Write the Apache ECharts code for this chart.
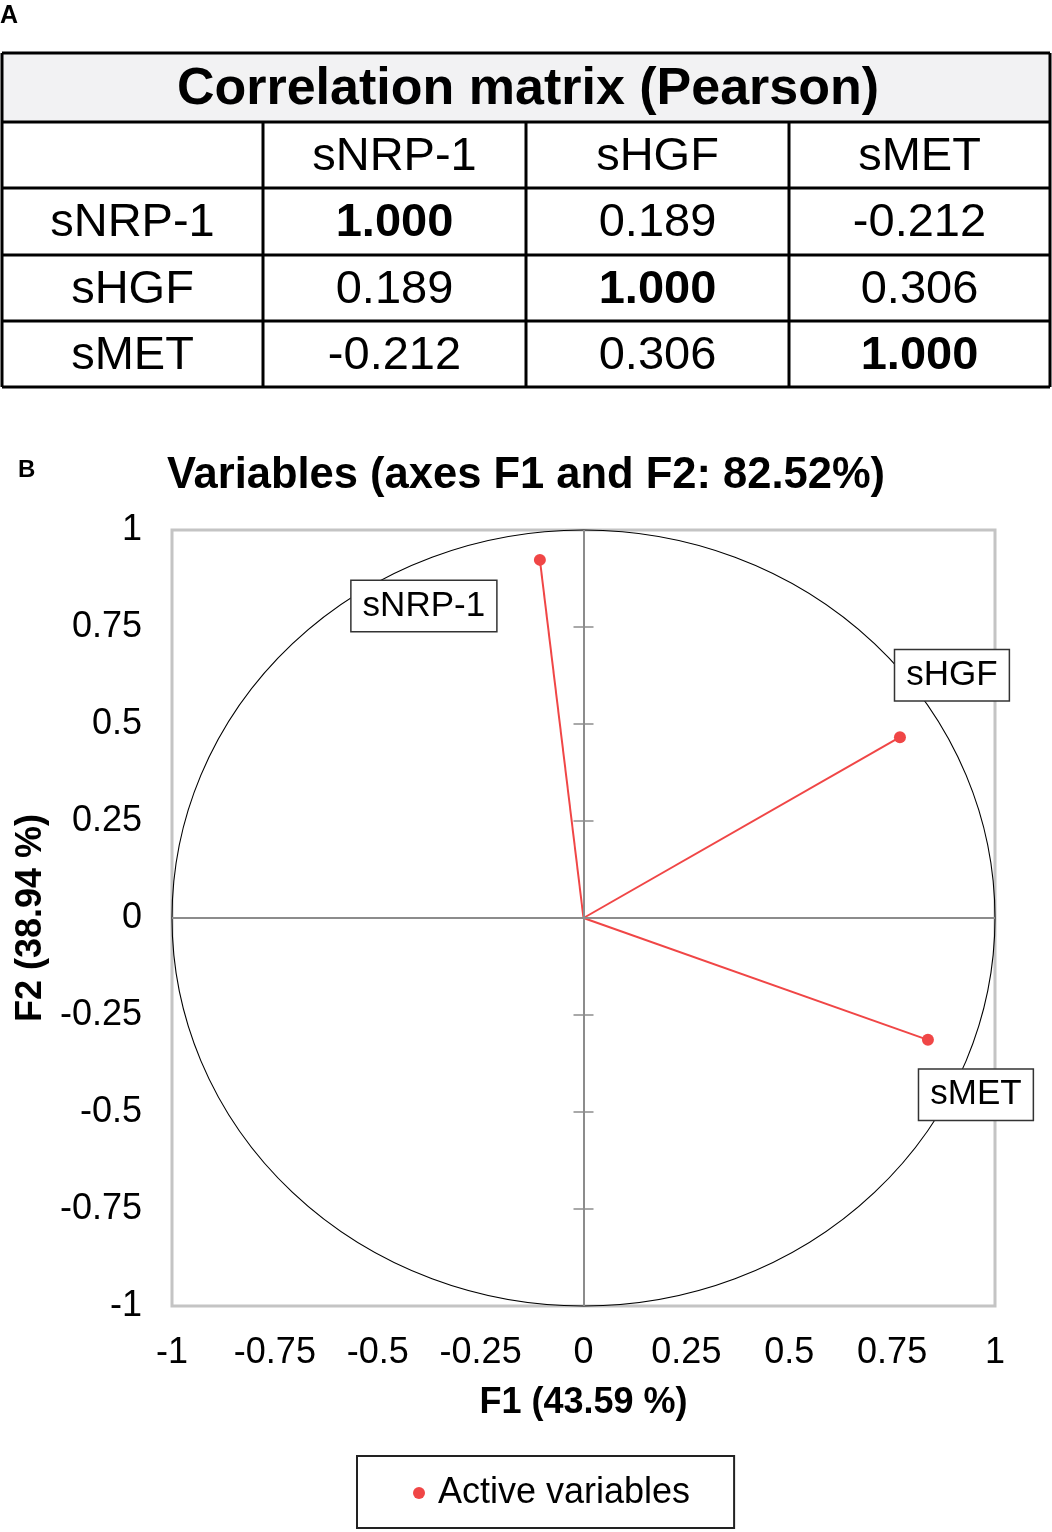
<!DOCTYPE html>
<html>
<head>
<meta charset="utf-8">
<script src="https://cdn.jsdelivr.net/npm/echarts@6/dist/echarts.min.js"></script>
<style>
  html, body { margin: 0; padding: 0; background: #fff; }
  #main { width: 1052px; height: 1532px; }
</style>
</head>
<body>
<div id="main"></div>
<script>
/* -------------------------------------------------------------------------- */
/* Data                                                                        */
var variables = ['sNRP-1', 'sHGF', 'sMET'];
var corrMatrix = [
  [1.000, 0.189, -0.212],
  [0.189, 1.000, 0.306],
  [-0.212, 0.306, 1.000]
];
var f1Loadings = [-0.106, 0.769, 0.837];
var f2Loadings = [0.923, 0.466, -0.314];
var axisTicks = [-1, -0.75, -0.5, -0.25, 0, 0.25, 0.5, 0.75, 1];
var tableTitle = 'Correlation matrix (Pearson)';
var chartTitle = 'Variables (axes F1 and F2: 82.52%)';
var xName = 'F1 (43.59 %)';
var yName = 'F2 (38.94 %)';
var legendName = 'Active variables';
/* -------------------------------------------------------------------------- */

var FONT = '"Liberation Sans", Arial, sans-serif';
var RED = '#f04646';

// label box placement next to each point (pixels)
var labelOffsets = {
  'sNRP-1': [-116, 46],
  'sHGF': [52, -62],
  'sMET': [48, 55]
};

/* Table A built with graphic elements */
var buildTable = function buildTable() {
  var colX = [2, 263, 526, 789, 1050];
  var rowY = [53, 122, 188, 255, 321, 387];
  var els = [];

  els.push({
    type: 'rect',
    shape: { x: colX[0], y: rowY[0], width: colX[4] - colX[0], height: rowY[1] - rowY[0] },
    style: { fill: '#f2f2f3' }
  });

  var cellText = function (text, col, row, bold) {
    els.push({
      type: 'text',
      x: (colX[col] + colX[col + 1]) / 2,
      y: (rowY[row] + rowY[row + 1]) / 2 + 2,
      style: {
        text: text,
        font: (bold ? 'bold ' : '') + '47px ' + FONT,
        fill: '#000',
        align: 'center',
        verticalAlign: 'middle'
      }
    });
  };

  els.push({
    type: 'text',
    x: (colX[0] + colX[4]) / 2 + 2,
    y: (rowY[0] + rowY[1]) / 2 + 2,
    style: {
      text: tableTitle,
      font: 'bold 52px ' + FONT,
      fill: '#000',
      align: 'center',
      verticalAlign: 'middle'
    }
  });

  variables.forEach(function (v, i) {
    cellText(v, i + 1, 1, false);
    cellText(v, 0, i + 2, false);
    corrMatrix[i].forEach(function (val, j) {
      cellText(val.toFixed(3), j + 1, i + 2, i === j);
    });
  });

  var lineStyle = { stroke: '#000', lineWidth: 3 };
  rowY.forEach(function (y) {
    els.push({ type: 'line', shape: { x1: colX[0], y1: y, x2: colX[4], y2: y }, style: lineStyle });
  });
  els.push({ type: 'line', shape: { x1: colX[0], y1: rowY[0], x2: colX[0], y2: rowY[5] }, style: lineStyle });
  els.push({ type: 'line', shape: { x1: colX[4], y1: rowY[0], x2: colX[4], y2: rowY[5] }, style: lineStyle });
  for (var c = 1; c < 4; c++) {
    els.push({ type: 'line', shape: { x1: colX[c], y1: rowY[1], x2: colX[c], y2: rowY[5] }, style: lineStyle });
  }
  return els;
};

var panelLetters = [
  { type: 'text', left: 0, top: 4, style: { text: 'A', font: 'bold 25px ' + FONT, fill: '#000' } },
  { type: 'text', left: 18, top: 458, style: { text: 'B', font: 'bold 24px ' + FONT, fill: '#000' } }
];

var points = variables.map(function (v, i) {
  return {
    name: v,
    value: [f1Loadings[i], f2Loadings[i]],
    label: { offset: labelOffsets[v] }
  };
});

var chart = echarts.init(document.getElementById('main'), null, { renderer: 'canvas' });

var axisCommon = {
  type: 'value',
  min: -1,
  max: 1,
  interval: 0.25,
  axisLine: { show: false },
  axisTick: { show: false },
  splitLine: { show: false },
  axisLabel: { fontSize: 36, color: '#000', fontFamily: FONT },
  nameTextStyle: { fontSize: 36, fontWeight: 'bold', color: '#000', fontFamily: FONT }
};

var option = {
  animation: false,
  backgroundColor: '#fff',
  textStyle: { fontFamily: FONT },
  title: {
    text: chartTitle,
    left: 'center',
    top: 449,
    textStyle: { fontSize: 43.5, fontWeight: 'bold', color: '#000', fontFamily: FONT }
  },
  graphic: buildTable().concat(panelLetters),
  grid: {
    left: 172,
    right: 57,
    top: 530,
    bottom: 226,
    show: true,
    borderColor: '#c4c4c4',
    borderWidth: 3
  },
  xAxis: Object.assign({}, axisCommon, {
    name: xName,
    nameLocation: 'middle',
    nameGap: 79,
    axisLabel: Object.assign({}, axisCommon.axisLabel, { margin: 29 })
  }),
  yAxis: Object.assign({}, axisCommon, {
    name: yName,
    nameLocation: 'middle',
    nameGap: 121,
    axisLabel: Object.assign({}, axisCommon.axisLabel, { margin: 30, padding: [6, 0, 0, 0] })
  }),
  legend: {
    data: [legendName],
    left: 357,
    top: 1456,
    padding: [19, 44, 17, 56],
    borderColor: '#222',
    borderWidth: 2,
    itemWidth: 20,
    itemHeight: 12,
    icon: 'circle',
    textStyle: { fontSize: 36, color: '#000', fontFamily: FONT, padding: [2, 0, 0, 4] }
  },
  series: [
    {
      // correlation circle + zero lines + ticks on the vertical zero line
      type: 'custom',
      silent: true,
      z: 1,
      data: axisTicks,
      renderItem: function (params, api) {
        var v = api.value(0);
        var c = api.coord([0, 0]);
        var children = [];
        if (params.dataIndex === 0) {
          var s = api.size([1, 1]);
          children.push({
            type: 'circle',
            x: c[0],
            y: c[1],
            scaleY: s[1] / s[0],
            shape: { cx: 0, cy: 0, r: s[0] },
            style: { fill: 'none', stroke: '#000', lineWidth: 1.1 }
          });
        }
        if (v !== 0 && Math.abs(v) !== 1) {
          var p = api.coord([0, v]);
          children.push({
            type: 'line',
            shape: { x1: p[0] - 10, y1: p[1], x2: p[0] + 10, y2: p[1] },
            style: { stroke: '#8c8c8c', lineWidth: 1.5 }
          });
        }
        return { type: 'group', children: children };
      },
      markLine: {
        silent: true,
        symbol: 'none',
        label: { show: false },
        lineStyle: { color: '#8c8c8c', width: 2, type: 'solid' },
        data: [{ xAxis: 0 }, { yAxis: 0 }]
      }
    },
    {
      // vectors from the origin
      type: 'custom',
      silent: true,
      z: 2,
      data: variables.map(function (v, i) { return [f1Loadings[i], f2Loadings[i]]; }),
      renderItem: function (params, api) {
        var o = api.coord([0, 0]);
        var p = api.coord([api.value(0), api.value(1)]);
        return {
          type: 'line',
          shape: { x1: o[0], y1: o[1], x2: p[0], y2: p[1] },
          style: { stroke: RED, lineWidth: 2 }
        };
      }
    },
    {
      name: legendName,
      type: 'scatter',
      z: 3,
      symbol: 'circle',
      symbolSize: 12,
      itemStyle: { color: RED, opacity: 1 },
      label: {
        show: true,
        position: 'inside',
        formatter: '{b}',
        fontSize: 35,
        color: '#000',
        fontFamily: FONT,
        backgroundColor: '#fff',
        borderColor: '#333',
        borderWidth: 1.5,
        padding: [9, 11, 6, 11]
      },
      data: points
    }
  ]
};

chart.setOption(option);
</script>
</body>
</html>
